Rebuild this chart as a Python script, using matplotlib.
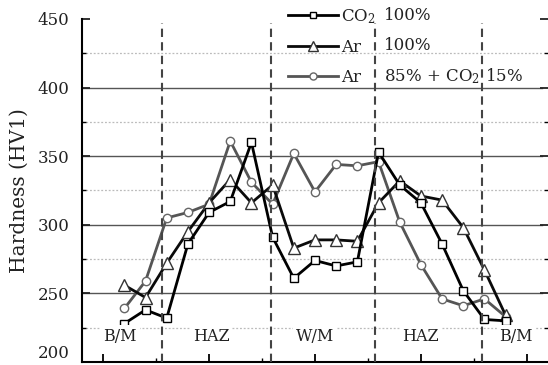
import matplotlib
matplotlib.use("Agg")
import matplotlib.pyplot as plt
import numpy as np

plt.rcParams['font.family'] = ['DejaVu Serif']
plt.rcParams['mathtext.fontset'] = 'dejavuserif'

# measuring positions along the weld
pos = np.arange(1, 20)

co2 = [228, 238, 232, 286, 309, 317, 360, 291, 261, 274, 270, 273,
       353, 329, 316, 286, 252, 231, 230]
ar = [256, 247, 272, 295, 316, 333, 316, 329, 283, 289, 289, 288,
      316, 332, 321, 318, 298, 267, 234]
mix = [239, 259, 305, 309, 315, 361, 331, 315, 352, 324, 344, 343,
       346, 302, 271, 246, 241, 246, 233]

zone_bounds = [2.8, 7.9, 12.85, 17.9]
zone_names = ["B/M", "HAZ", "W/M", "HAZ", "B/M"]
zone_x = [0.8, 5.1, 10.0, 15.0, 19.5]

gas = ["CO$_2$", "Ar", "Ar"]
mixing = ["100%", "100%", "85% + CO$_2$ 15%"]

fig = plt.figure(figsize=(5.48, 3.65), dpi=100)
ax = fig.add_axes([0.1496, 0.0082, 0.8504, 0.9398])

# grid
for v in [250, 300, 350, 400]:
    ax.axhline(v, color='#555555', lw=1.0, zorder=1, xmax=0.988)
for v in [225, 275, 325, 375, 425]:
    ax.axhline(v, color='#bbbbbb', lw=0.9, ls=(0, (1.5, 1.5)), zorder=1, xmax=0.988)

for b in zone_bounds:
    ax.plot([b, b], [200, 447], color='#444444', lw=1.5, ls=(0, (4, 2.5)), zorder=5)

l1, = ax.plot(pos, co2, color='black', lw=2.0, marker='s', ms=5.5,
              mfc='white', mec='black', mew=1.0, zorder=4)
l2, = ax.plot(pos, ar, color='#0a0a0a', lw=2.0, marker='^', ms=8,
              mfc='white', mec='#333333', mew=1.0, zorder=3)
l3, = ax.plot(pos, mix, color='#555555', lw=2.0, marker='o', ms=6,
              mfc='white', mec='#666666', mew=1.0, zorder=2)

for name, xx in zip(zone_names, zone_x):
    ax.text(xx, 218.5, name, ha='center', va='center', fontsize=11.5,
            color='#222222', zorder=6,
            bbox=dict(facecolor='white', edgecolor='none', pad=2))

ax.set_xlim(-1, 21)
ax.set_ylim(200, 450)
ax.set_xticks([0, 5, 10, 15, 20])
ax.set_xticks([2.5, 7.5, 12.5, 17.5], minor=True)
ax.set_xticklabels([])
ax.set_yticks([200, 250, 300, 350, 400, 450])
ax.set_yticks([225, 275, 325, 375, 425], minor=True)

for s in ['top', 'right']:
    ax.spines[s].set_visible(False)
ax.spines['left'].set_linewidth(1.5)
ax.spines['bottom'].set_linewidth(1.5)

ax.tick_params(axis='x', which='major', direction='in', length=6, width=1.3)
ax.tick_params(axis='x', which='minor', direction='in', length=3, width=1.0)
ax.tick_params(axis='y', which='major', direction='in', length=6, width=1.3,
               right=True, labelsize=12, pad=9, colors='#222222')
ax.tick_params(axis='y', which='minor', direction='in', length=3, width=1.0,
               right=True)
ax.get_yticklabels()[0].set_va('bottom')

ax.set_ylabel("Hardness (HV1)", fontsize=14.5, color='#222222', labelpad=6)

leg = ax.legend([l1, l2, l3], gas, loc='upper left',
                bbox_to_anchor=(288 / 548, 1 - 7 / 365),
                bbox_transform=fig.transFigure, frameon=False, fontsize=12,
                handlelength=3.0, handletextpad=0.2, labelspacing=0.78,
                borderpad=0, borderaxespad=0, markerscale=0.85)
for t in leg.get_texts():
    t.set_color('#222222')

for i, txt in enumerate(mixing):
    fig.text(384 / 548, 1 - (16 + 30 * i) / 365, txt, fontsize=12,
             color='#222222', va='center', ha='left')

fig.savefig("out.png", dpi=100)
